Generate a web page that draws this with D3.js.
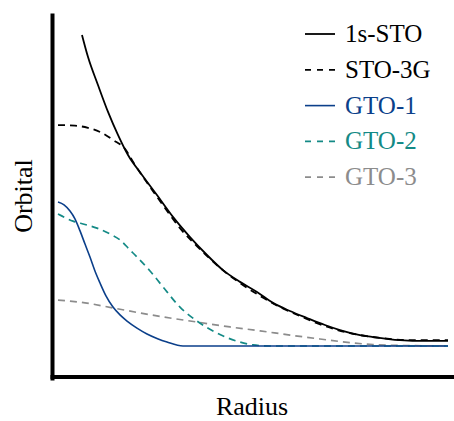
<!DOCTYPE html>
<meta charset="utf-8">
<style>
    body {
        margin: 0;
        overflow: hidden;
        background: #fff;
    }

    text {
        font-family: "Liberation Serif", "DejaVu Serif", serif;
    }

    .axis path {
        stroke: #000;
        stroke-width: 4;
        stroke-linecap: square;
    }

    .curves path {
        fill: none;
    }

</style>
<svg id="canvas" width="454" height="421"></svg>
<script src="https://d3js.org/d3.v7.min.js"></script>
<script>

    // radius / orbital value samples
    var stoR  = [0.246, 0.308, 0.410, 0.513, 0.615, 0.718, 0.862, 1.015, 1.179, 1.354, 1.528, 1.692,
                 1.867, 2.041, 2.205, 2.379, 2.554, 2.738, 2.892, 3.097, 3.231, 3.508, 3.764, 4.0];
    var stoV  = [1.111, 1.032, 0.932, 0.836, 0.754, 0.682, 0.611, 0.539, 0.461, 0.389, 0.325, 0.271,
                 0.229, 0.193, 0.154, 0.125, 0.100, 0.075, 0.057, 0.039, 0.032, 0.021, 0.018, 0.018];

    var sto3gR = [0, 0.174, 0.308, 0.451, 0.564, 0.687, 0.790, 0.944, 1.097, 1.251, 1.456, 1.662,
                  1.867, 2.072, 2.277, 2.482, 2.738, 2.995, 3.303, 3.610, 4.0];
    var sto3gV = [0.789, 0.787, 0.779, 0.761, 0.736, 0.704, 0.646, 0.568, 0.493, 0.421, 0.346, 0.279,
                  0.225, 0.179, 0.139, 0.107, 0.071, 0.046, 0.029, 0.021, 0.021];

    var gto1R = [0, 0.062, 0.123, 0.174, 0.226, 0.277, 0.328, 0.379, 0.431, 0.492, 0.564, 0.636,
                 0.708, 0.810, 0.913, 1.015, 1.118, 1.282, 4.0];
    var gto1V = [0.514, 0.504, 0.482, 0.454, 0.411, 0.364, 0.318, 0.268, 0.225, 0.179, 0.139, 0.111,
                 0.089, 0.064, 0.043, 0.027, 0.014, 0, 0];

    var gto2R = [0, 0.154, 0.277, 0.400, 0.533, 0.636, 0.738, 0.810, 0.944, 1.077, 1.251, 1.426,
                 1.631, 1.867, 2.0, 2.174, 4.0];
    var gto2V = [0.471, 0.446, 0.434, 0.421, 0.400, 0.379, 0.343, 0.318, 0.268, 0.211, 0.139, 0.089,
                 0.046, 0.014, 0.004, 0, 0];

    var gto3R = [0, 0.277, 0.564, 0.841, 1.149, 1.456, 1.764, 2.072, 2.379, 2.687, 2.892, 3.231, 3.508, 4.0];
    var gto3V = [0.164, 0.154, 0.136, 0.118, 0.100, 0.084, 0.068, 0.054, 0.039, 0.025, 0.016, 0.005, 0.002, 0];

    var names  = ["1s-STO", "STO-3G", "GTO-1", "GTO-2", "GTO-3"];
    var colors = ["#000000", "#000000", "#0b3f8a", "#148a86", "#8c8c8c"];
    var dashes = [null, "7,5", null, "7,5", "7,5"];
    var widths = [1.8, 1.8, 1.6, 1.7, 1.7];

    var series = [
        d3.zip(stoR, stoV),
        d3.zip(sto3gR, sto3gV),
        d3.zip(gto1R, gto1V),
        d3.zip(gto2R, gto2V),
        d3.zip(gto3R, gto3V)
    ];

    var svg = d3.select("svg");

    var x = d3.scaleLinear().domain([-0.0615, 4.0615]).range([52, 454]);
    var y = d3.scaleLinear().domain([-0.1143, 1.1821]).range([378, 15]);

    svg.append("g")
       .attr("class", "axis")
       .attr("transform", "translate(52,0)")
       .call(d3.axisLeft(y).ticks(0).tickSizeOuter(0));

    svg.append("g")
       .attr("class", "axis")
       .attr("transform", "translate(0,376.5)")
       .call(d3.axisBottom(x).ticks(0).tickSizeOuter(0));

    var line = d3.line()
                 .x(function(d) { return x(d[0]); })
                 .y(function(d) { return y(d[1]); })
                 .curve(d3.curveMonotoneX);

    // draw back to front so the STO curve sits on top
    var order = [4, 3, 2, 1, 0];
    svg.append("g")
       .attr("class", "curves")
       .selectAll("path")
       .data(order)
       .enter().append("path")
       .attr("d", function(i) { return line(series[i]); })
       .attr("stroke", function(i) { return colors[i]; })
       .attr("stroke-width", function(i) { return widths[i]; })
       .attr("stroke-dasharray", function(i) { return dashes[i]; });

    // legend
    var legend = svg.append("g")
                    .selectAll("g")
                    .data(names)
                    .enter().append("g")
                    .attr("transform", function(d, i) { return "translate(305," + (42 + i * 35.8) + ")"; });

    legend.append("line")
          .attr("x1", 0).attr("x2", 30)
          .attr("y1", -8).attr("y2", -8)
          .attr("stroke", function(d, i) { return colors[i]; })
          .attr("stroke-width", function(d, i) { return widths[i]; })
          .attr("stroke-dasharray", function(d, i) { return dashes[i] ? "6,6" : null; });

    legend.append("text")
          .attr("x", 40)
          .attr("font-size", 25)
          .attr("fill", function(d, i) { return colors[i]; })
          .text(function(d) { return d; });

    svg.append("text")
       .attr("transform", "translate(32,196) rotate(-90)")
       .attr("text-anchor", "middle")
       .attr("font-size", 26)
       .text("Orbital");

    svg.append("text")
       .attr("x", 252)
       .attr("y", 415)
       .attr("text-anchor", "middle")
       .attr("font-size", 26)
       .text("Radius");

</script>
